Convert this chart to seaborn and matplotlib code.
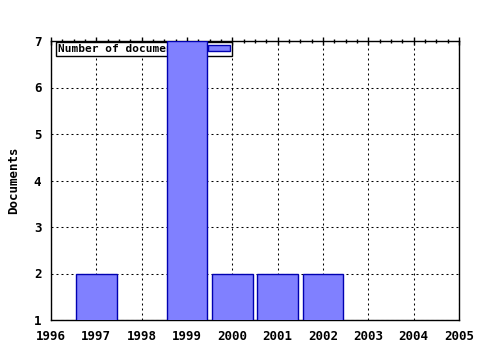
import matplotlib
matplotlib.use("Agg")
import matplotlib.pyplot as plt
import seaborn as sns
import pandas as pd
from matplotlib.ticker import MultipleLocator

years = [1997, 1999, 2000, 2001, 2002]
documents = [2, 7, 2, 2, 2]
xticks = list(range(1996, 2006))
yticks = list(range(1, 8))

sns.set_style("white")
plt.rcParams['font.family'] = ['DejaVu Sans Mono']
plt.rcParams['font.weight'] = 'bold'
plt.rcParams['text.color'] = 'black'
plt.rcParams['xtick.color'] = 'black'
plt.rcParams['ytick.color'] = 'black'
plt.rcParams['axes.labelcolor'] = 'black'

df = pd.DataFrame({"year": years, "docs": documents})

fig = plt.figure(figsize=(4.8, 3.5), dpi=100)
ax = fig.add_axes([51/480, 1-320/350, 408/480, 279/350])

sns.barplot(data=df, x="year", y="docs", native_scale=True, width=0.9,
            color="#8080ff", saturation=1, edgecolor="#0000b0", linewidth=1,
            ax=ax, label="Number of documents", zorder=3)

ax.set_xlim(1996, 2005)
ax.set_ylim(1, 7)
ax.set_xticks(xticks)
ax.set_yticks(yticks)
ax.set_xticklabels([str(t) for t in xticks], fontsize=9, fontweight='bold')
ax.set_yticklabels([str(t) for t in yticks], fontsize=9, fontweight='bold')
ax.xaxis.set_minor_locator(MultipleLocator(0.25))
ax.tick_params(axis='both', which='major', direction='inout', length=6, width=1,
               top=True, right=False, pad=4)
ax.tick_params(axis='x', which='minor', direction='inout', length=3, width=1, top=True)
ax.set_xlabel("")
ax.set_ylabel("Documents", fontsize=9, fontweight='bold', labelpad=10)
ax.grid(True, which='major', color='black', linestyle=(0, (1.9, 2.9)), linewidth=0.75, zorder=0)
ax.set_axisbelow(True)
for s in ax.spines.values():
    s.set_color('black')
    s.set_linewidth(1)
    s.set_visible(True)

leg = ax.legend(loc='upper left', bbox_to_anchor=(0.012, 0.995), markerfirst=False,
                frameon=True, fancybox=False, framealpha=1, edgecolor='black',
                prop={'size': 8, 'weight': 'bold'}, handlelength=2, handleheight=0.45,
                borderpad=0.15, handletextpad=2.0, borderaxespad=0)
leg.get_frame().set_linewidth(1)
leg.set_zorder(1)

fig.savefig("out.png", dpi=100)
